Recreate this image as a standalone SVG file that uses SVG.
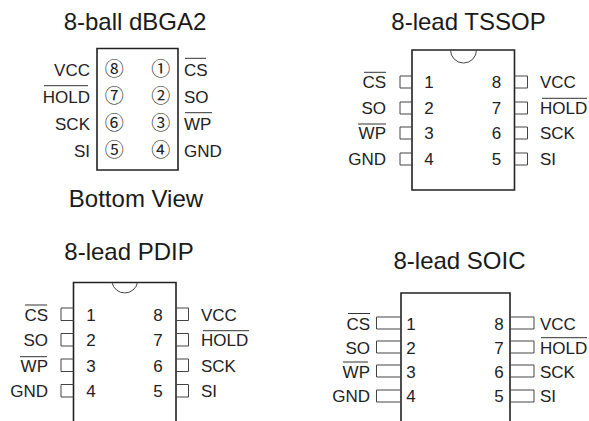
<svg xmlns="http://www.w3.org/2000/svg" width="589" height="421" viewBox="0 0 589 421">
<style>
text{font-family:"Liberation Sans",Arial,sans-serif;fill:#222}
.t{font-size:24px;text-anchor:middle;fill:#1a1a1a}
.l{font-size:17px}
.r{text-anchor:end}
.n{font-size:17px;text-anchor:middle}
.c{font-family:"Noto Sans CJK SC",sans-serif;font-size:19px;text-anchor:middle}
.b{fill:none;stroke:#222;stroke-width:1.6}
.p{fill:none;stroke:#444;stroke-width:1}
.o{stroke:#333;stroke-width:1;fill:none}
</style>
<rect width="589" height="421" fill="#fff"/>
<g id="dbga">
<text class="t" x="135" y="29.500">8-ball dBGA2</text>
<path class="b" d="M97 48.500H178V170H97Z"/>
<text class="l r" x="90" y="75.700">VCC</text><text class="l r" x="90" y="102.700">HOLD</text><text class="l r" x="90" y="129.700">SCK</text><text class="l r" x="90" y="156.700">SI</text>
<text class="l" x="184" y="75.700">CS</text><text class="l" x="184" y="102.700">SO</text><text class="l" x="184" y="129.700">WP</text><text class="l" x="184" y="156.700">GND</text>
<text class="c" x="114.300" y="75.800">⑧</text><text class="c" x="114.300" y="102.800">⑦</text><text class="c" x="114.300" y="129.800">⑥</text><text class="c" x="114.300" y="156.800">⑤</text>
<text class="c" x="160.700" y="75.800">①</text><text class="c" x="160.700" y="102.800">②</text><text class="c" x="160.700" y="129.800">③</text><text class="c" x="160.700" y="156.800">④</text>
<path class="o" d="M44 85.700H88M185 58.300H206M185 112.700H212"/>
<text class="t" x="136" y="207.400">Bottom View</text>
</g>
<g id="tssop">
<text class="t" x="468.500" y="29.500">8-lead TSSOP</text>
<path class="b" d="M412 50H514.500V190H412Z"/>
<path class="p" d="M450.500 50A13 13 0 0 0 476.500 50"/>
<path class="p" d="M412 76H400V88H412M412 102H400V114H412M412 127H400V139H412M412 153H400V165H412M514.500 76H527.500V88H514.500M514.500 102H527.500V114H514.500M514.500 127H527.500V139H514.500M514.500 153H527.500V165H514.500"/>
<text class="l r" x="386" y="88">CS</text><text class="l r" x="386" y="114">SO</text><text class="l r" x="386" y="139">WP</text><text class="l r" x="386" y="165">GND</text>
<text class="l" x="540" y="88">VCC</text><text class="l" x="540" y="114">HOLD</text><text class="l" x="540" y="139">SCK</text><text class="l" x="540" y="165">SI</text>
<text class="n" x="429" y="88">1</text><text class="n" x="429" y="114">2</text><text class="n" x="429" y="139">3</text><text class="n" x="429" y="165">4</text>
<text class="n" x="496.500" y="88">8</text><text class="n" x="496.500" y="114">7</text><text class="n" x="496.500" y="139">6</text><text class="n" x="496.500" y="165">5</text>
<path class="o" d="M364 72.300H386M358 124H386M542 98.300H587"/>
</g>
<g id="pdip">
<text class="t" x="129" y="260.400">8-lead PDIP</text>
<path class="b" d="M73.500 421V282.500H176V421"/>
<path class="p" d="M112 282.500A13 13 0 0 0 137.500 282.500"/>
<path class="p" d="M73.500 308H61V320.500H73.500M73.500 333.500H61V346H73.500M73.500 359H61V371.500H73.500M73.500 384.500H61V397H73.500M176 308H188.500V320.500H176M176 333.500H188.500V346H176M176 359H188.500V371.500H176M176 384.500H188.500V397H176"/>
<text class="l r" x="48" y="321">CS</text><text class="l r" x="48" y="346">SO</text><text class="l r" x="48" y="372">WP</text><text class="l r" x="48" y="397">GND</text>
<text class="l" x="201" y="321">VCC</text><text class="l" x="201" y="346">HOLD</text><text class="l" x="201" y="372">SCK</text><text class="l" x="201" y="397">SI</text>
<text class="n" x="91" y="321">1</text><text class="n" x="91" y="346">2</text><text class="n" x="91" y="372">3</text><text class="n" x="91" y="397">4</text>
<text class="n" x="158" y="321">8</text><text class="n" x="158" y="346">7</text><text class="n" x="158" y="372">6</text><text class="n" x="158" y="397">5</text>
<path class="o" d="M25 305H47M20 356.700H47M203 330.700H249"/>
</g>
<g id="soic">
<text class="t" x="459.500" y="269">8-lead SOIC</text>
<path class="b" d="M401 421V293H510V421"/>
<path class="p" d="M401 317H376.500V329H401M401 341H376.500V353H401M401 365H376.500V377H401M401 390H376.500V402H401M510 317H534V329H510M510 341H534V353H510M510 365H534V377H510M510 390H534V402H510"/>
<text class="l r" x="370" y="330">CS</text><text class="l r" x="370" y="354">SO</text><text class="l r" x="370" y="378">WP</text><text class="l r" x="370" y="402">GND</text>
<text class="l" x="540" y="330">VCC</text><text class="l" x="540" y="354">HOLD</text><text class="l" x="540" y="378">SCK</text><text class="l" x="540" y="402">SI</text>
<text class="n" x="411" y="330">1</text><text class="n" x="411" y="354">2</text><text class="n" x="411" y="378">3</text><text class="n" x="411" y="402">4</text>
<text class="n" x="499" y="330">8</text><text class="n" x="499" y="354">7</text><text class="n" x="499" y="378">6</text><text class="n" x="499" y="402">5</text>
<path class="o" d="M348 313.500H370M343 362H368M541 337.700H587"/>
</g>
</svg>
